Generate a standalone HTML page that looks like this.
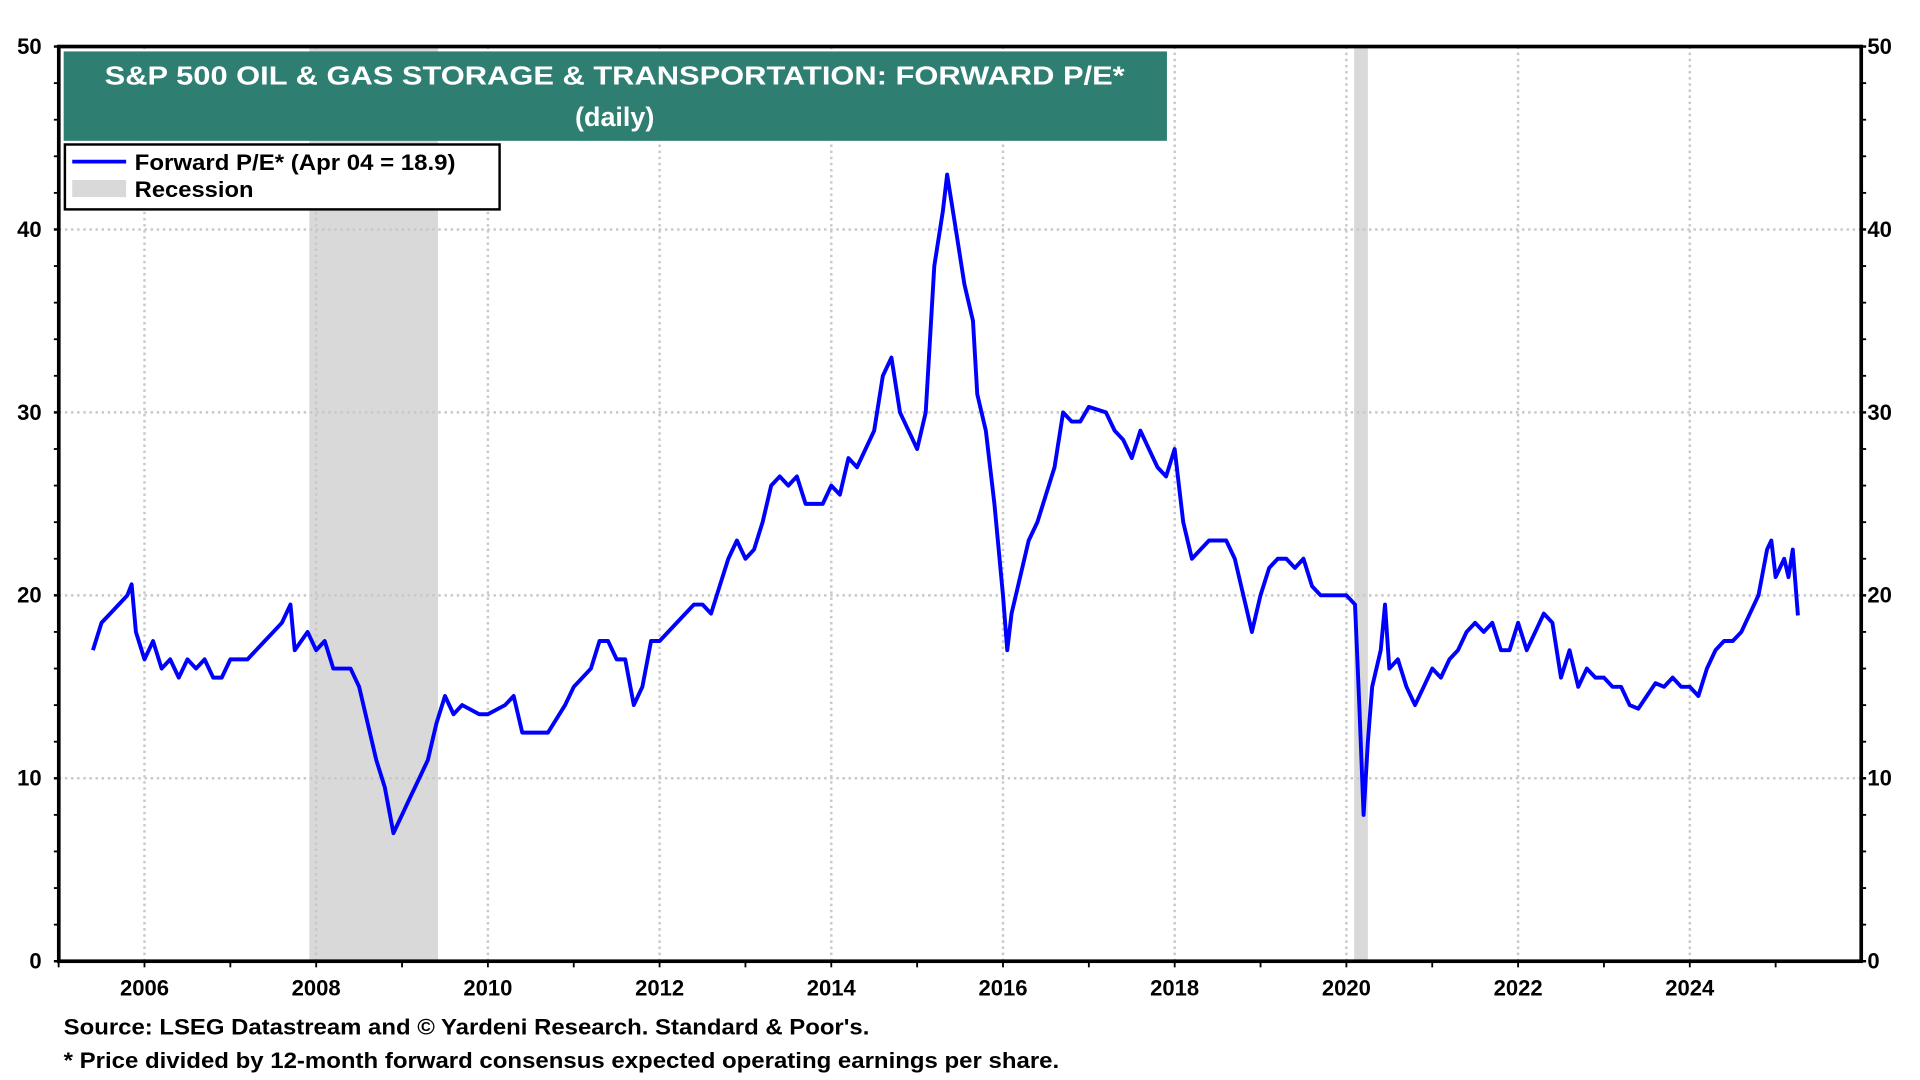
<!DOCTYPE html>
<html><head><meta charset="utf-8"><style>
html,body{margin:0;padding:0;background:#fff;}
svg{display:block;font-family:"Liberation Sans",Arial,sans-serif;font-weight:bold;}
</style></head><body>
<svg id="chart" width="1920" height="1080" viewBox="0 0 1568 882" xmlns="http://www.w3.org/2000/svg">
<g id="bg"></g>
<g id="grid"></g>
<g id="series"></g>
<g id="axes"></g>
<rect x="52" y="42" width="901" height="73" fill="#2e7f72"/>
<text x="502" y="69" fill="#fff" font-size="21" text-anchor="middle" textLength="833" lengthAdjust="spacingAndGlyphs">S&amp;P 500 OIL &amp; GAS STORAGE &amp; TRANSPORTATION: FORWARD P/E*</text>
<text x="502" y="103" fill="#fff" font-size="22" text-anchor="middle">(daily)</text>
<g>
<rect x="53" y="118" width="355" height="53" fill="#fff" stroke="#000" stroke-width="2"/>
<line x1="59" y1="132" x2="103" y2="132" stroke="#0000ff" stroke-width="3"/>
<text x="110" y="139" font-size="18" textLength="262" lengthAdjust="spacingAndGlyphs">Forward P/E* (Apr 04 = 18.9)</text>
<rect x="59" y="147" width="44" height="14" fill="#d9d9d9"/>
<text x="110" y="161" font-size="18" textLength="97" lengthAdjust="spacingAndGlyphs">Recession</text>
</g>
<text x="52" y="845" font-size="18" textLength="658" lengthAdjust="spacingAndGlyphs">Source: LSEG Datastream and © Yardeni Research. Standard &amp; Poor's.</text>
<text x="52" y="872" font-size="18" textLength="813" lengthAdjust="spacingAndGlyphs">* Price divided by 12-month forward consensus expected operating earnings per share.</text>
</svg>
<script>
const dates=[2005.4,2005.5,2005.6,2005.7,2005.8,2005.85,2005.9,2006.0,2006.05,2006.1,2006.2,2006.3,2006.4,2006.5,2006.6,2006.7,2006.8,2006.9,2007.0,2007.2,2007.4,2007.5,2007.6,2007.7,2007.75,2007.9,2008.0,2008.1,2008.2,2008.4,2008.5,2008.6,2008.7,2008.8,2008.9,2009.0,2009.1,2009.2,2009.3,2009.4,2009.5,2009.6,2009.7,2009.9,2010.0,2010.2,2010.3,2010.4,2010.6,2010.7,2010.9,2011.0,2011.2,2011.3,2011.4,2011.5,2011.6,2011.7,2011.8,2011.9,2012.0,2012.2,2012.4,2012.5,2012.6,2012.7,2012.8,2012.9,2013.0,2013.1,2013.2,2013.3,2013.4,2013.5,2013.6,2013.7,2013.8,2013.9,2014.0,2014.1,2014.2,2014.3,2014.4,2014.5,2014.6,2014.7,2014.8,2014.9,2015.0,2015.1,2015.2,2015.3,2015.35,2015.45,2015.55,2015.65,2015.7,2015.8,2015.9,2016.0,2016.05,2016.1,2016.2,2016.3,2016.4,2016.5,2016.6,2016.7,2016.8,2016.9,2017.0,2017.2,2017.3,2017.4,2017.5,2017.6,2017.7,2017.8,2017.9,2018.0,2018.1,2018.2,2018.3,2018.4,2018.5,2018.6,2018.7,2018.8,2018.9,2019.0,2019.1,2019.2,2019.3,2019.4,2019.5,2019.6,2019.7,2019.8,2019.9,2020.0,2020.1,2020.15,2020.2,2020.25,2020.3,2020.4,2020.45,2020.5,2020.6,2020.7,2020.8,2020.9,2021.0,2021.1,2021.2,2021.3,2021.4,2021.5,2021.6,2021.7,2021.8,2021.9,2022.0,2022.1,2022.2,2022.3,2022.4,2022.5,2022.6,2022.7,2022.8,2022.9,2023.0,2023.1,2023.2,2023.3,2023.4,2023.5,2023.6,2023.7,2023.8,2023.9,2024.0,2024.1,2024.2,2024.3,2024.4,2024.5,2024.6,2024.7,2024.8,2024.9,2024.95,2025.0,2025.1,2025.15,2025.2,2025.26];
const values=[17,18.5,19,19.5,20,20.6,18,16.5,17,17.5,16,16.5,15.5,16.5,16,16.5,15.5,15.5,16.5,16.5,17.5,18,18.5,19.5,17,18,17,17.5,16,16,15,13,11,9.5,7,8,9,10,11,13,14.5,13.5,14,13.5,13.5,14,14.5,12.5,12.5,12.5,14,15,16,17.5,17.5,16.5,16.5,14,15,17.5,17.5,18.5,19.5,19.5,19,20.5,22,23,22,22.5,24,26,26.5,26,26.5,25,25,25,26,25.5,27.5,27,28,29,32,33,30,29,28,30,38,41,43,40,37,35,31,29,25,20,17,19,21,23,24,25.5,27,30,29.5,29.5,30.3,30,29,28.5,27.5,29,28,27,26.5,28,24,22,22.5,23,23,23,22,20,18,20,21.5,22,22,21.5,22,20.5,20,20,20,20,19.5,14,8,12,15,17,19.5,16,16.5,15,14,15,16,15.5,16.5,17,18,18.5,18,18.5,17,17,18.5,17,18,19,18.5,15.5,17,15,16,15.5,15.5,15,15,14,13.8,14.5,15.2,15,15.5,15,15,14.5,16,17,17.5,17.5,18,19,20,22.5,23,21,22,21,22.5,18.9];
const recStart=[2007.92,2020.09];
const recEnd=[2009.42,2020.25];
const yTicks=[0,10,20,30,40,50];
const xTickYears=[2006,2008,2010,2012,2014,2016,2018,2020,2022,2024];

const L=48,R=1520,T=38,B=785;
const X=y=>118+(y-2006)*(1380-118)/18;
const Y=v=>B-(v/50)*(B-T);
const NS="http://www.w3.org/2000/svg";
function mk(tag,attrs,parent,txt){const e=document.createElementNS(NS,tag);for(const k in attrs)e.setAttribute(k,attrs[k]);if(txt!==undefined)e.textContent=txt;document.getElementById(parent).appendChild(e);return e;}

recStart.forEach((s,i)=>{
  const r=mk('rect',{x:X(s),y:T,width:X(recEnd[i])-X(s),height:B-T,fill:'#d9d9d9'},'bg');
  
  
});
xTickYears.forEach(yr=>{
  const l=mk('line',{x1:X(yr),x2:X(yr),y1:T,y2:B,stroke:'#c8c8c8','stroke-width':2,'stroke-dasharray':'2,3'},'grid');
  
  
});
yTicks.filter(v=>v>0&&v<50).forEach(v=>{
  const l=mk('line',{x1:L,x2:R,y1:Y(v),y2:Y(v),stroke:'#c8c8c8','stroke-width':2,'stroke-dasharray':'2,3'},'grid');
  
  
});
let d='';
dates.forEach((t,i)=>{d+=(i?'L':'M')+X(t).toFixed(1)+','+Y(values[i]).toFixed(1);});
const p=mk('path',{d:d,fill:'none',stroke:'#0000ff','stroke-width':3.2,'stroke-linejoin':'round'},'series');



const f=mk('rect',{x:L,y:T,width:R-L,height:B-T,fill:'none',stroke:'#000','stroke-width':3},'axes');


for(let v=0;v<=50;v+=2){
  mk('line',{x1:L-4,x2:L,y1:Y(v),y2:Y(v),stroke:'#000','stroke-width':v%10===0?2:1.5},'axes');
  mk('line',{x1:R,x2:R+4,y1:Y(v),y2:Y(v),stroke:'#000','stroke-width':v%10===0?2:1.5},'axes');
}
for(let yr=2005;yr<=2025;yr++){
  mk('line',{x1:X(yr),x2:X(yr),y1:B,y2:B+5,stroke:'#000','stroke-width':1.5},'axes');
}
yTicks.forEach(v=>{
  const a=mk('text',{x:34,y:Y(v)+6,'font-size':18,'text-anchor':'end'},'axes',v);
  
  
  const b=mk('text',{x:1525,y:Y(v)+6,'font-size':18,'text-anchor':'start'},'axes',v);
  
  
});
xTickYears.forEach(yr=>{
  const a=mk('text',{x:X(yr),y:813,'font-size':18,'text-anchor':'middle'},'axes',yr);
  
  
});
</script>
</body></html>
